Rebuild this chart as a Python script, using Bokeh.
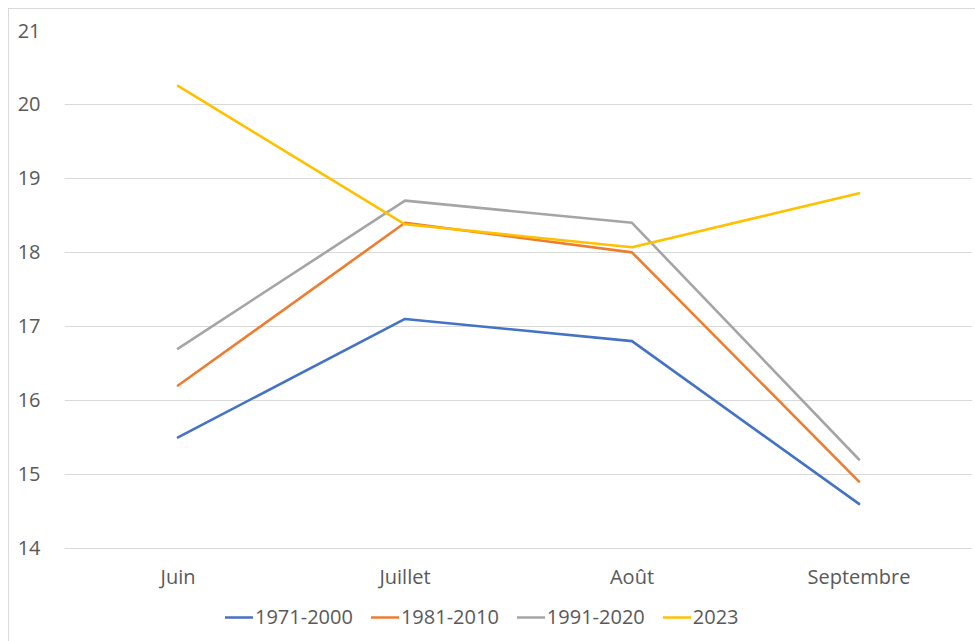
from bokeh.plotting import figure
from bokeh.models import FactorRange, Range1d, Legend, LegendItem, FixedTicker
from bokeh.embed import file_html
from bokeh.resources import INLINE

months = ["Juin", "Juillet", "Août", "Septembre"]
s1971_2000 = [15.5, 17.1, 16.8, 14.6]
s1981_2010 = [16.2, 18.4, 18.0, 14.9]
s1991_2020 = [16.7, 18.7, 18.4, 15.2]
s2023 = [20.25, 18.38, 18.07, 18.8]
series_names = ["1971-2000", "1981-2010", "1991-2020", "2023"]
series_values = [s1971_2000, s1981_2010, s1991_2020, s2023]
colors = ["#4472C4", "#ED7D31", "#A5A5A5", "#FFC000"]
y_ticks = [14, 15, 16, 17, 18, 19, 20, 21]
y_axis_min = 14
y_axis_max = 21
# extra room below the axis (in data units) that holds the category labels and the legend
y_view_min = 12.78

FONT = "Open Sans"
TXT = "#595959"
FS = "20px"

p = figure(frame_width=908, frame_height=608, output_backend="svg", toolbar_location=None,
           x_range=FactorRange(*months, range_padding=0),
           y_range=Range1d(y_view_min, y_axis_max),
           min_border_left=55, min_border_right=4, min_border_top=21, min_border_bottom=3)
p.styles = {"border": "1px solid #d9d9d9", "margin-left": "8px", "margin-top": "8px"}
p.outline_line_color = None
p.background_fill_color = "white"
p.border_fill_color = "white"

p.xgrid.grid_line_color = None
p.ygrid.grid_line_color = "#d9d9d9"
p.ygrid.grid_line_width = 1
p.yaxis.ticker = FixedTicker(ticks=y_ticks)
p.xaxis.fixed_location = y_axis_min

for ax in (p.xaxis, p.yaxis):
    ax.axis_line_color = None
    ax.major_tick_line_color = None
    ax.minor_tick_line_color = None
    ax.major_label_text_font = FONT
    ax.major_label_text_font_size = FS
    ax.major_label_text_color = TXT
p.yaxis.major_label_standoff = 18
p.xaxis.major_label_standoff = 9

renderers = []
for name, vals, c in zip(series_names, series_values, colors):
    r = p.line(x=months, y=vals, line_color=c, line_width=2.6, line_join="round", line_cap="round")
    renderers.append((name, r))

legend = Legend(items=[LegendItem(label=n, renderers=[r]) for n, r in renderers],
                orientation="horizontal", location=(161, 8),
                label_text_font=FONT, label_text_font_size=FS, label_text_color=TXT,
                label_height=20, glyph_height=20,
                glyph_width=28, label_standoff=2, spacing=18, padding=0, margin=0,
                border_line_color=None, background_fill_alpha=0)
p.add_layout(legend, "center")

open("out.html", "w").write(file_html(p, INLINE))
